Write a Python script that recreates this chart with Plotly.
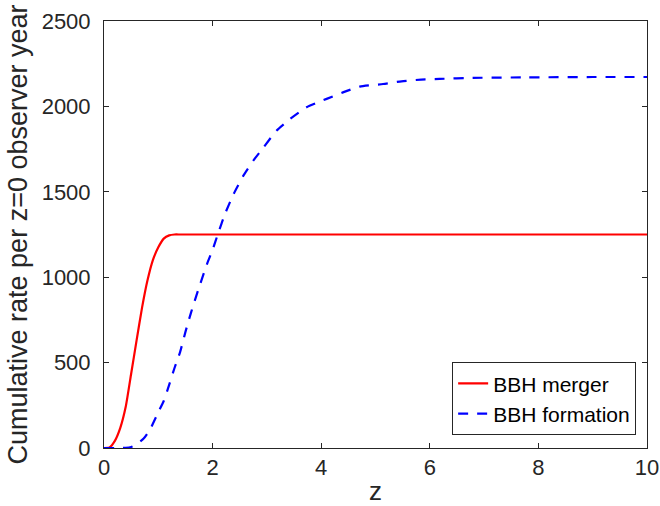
import plotly.graph_objects as go

# Data
z_merger = [0, 0.1, 0.2, 0.3, 0.4, 0.5, 0.6, 0.7, 0.8, 0.9, 1.0, 1.1, 1.2, 1.3, 1.4, 1.6, 2.0, 4.0, 6.0, 8.0, 10.0]
rate_merger = [0, 3, 42, 118, 241, 435, 630, 820, 980, 1100, 1175, 1226, 1245, 1250, 1250, 1250, 1250, 1250, 1250, 1250, 1250]

z_formation = [0, 0.3, 0.4, 0.5, 0.6, 0.73, 0.85, 1.0, 1.1, 1.2, 1.3, 1.4, 1.5, 1.6, 1.75, 1.9, 2.0, 2.1, 2.23, 2.39, 2.57, 2.75, 2.94, 3.18, 3.43, 3.73, 4.1, 4.4, 4.71, 5.14, 5.48, 5.84, 6.18, 6.79, 7.8, 9.0, 10.0]
rate_formation = [0, 0, 1, 6, 22, 55, 110, 210, 275, 370, 470, 560, 680, 790, 940, 1080, 1160, 1255, 1372, 1489, 1596, 1683, 1761, 1859, 1927, 1995, 2044, 2082, 2116, 2131, 2147, 2157, 2161, 2167, 2170, 2172, 2172]

x_ticks = [0, 2, 4, 6, 8, 10]
y_ticks = [0, 500, 1000, 1500, 2000, 2500]

FONT = "Liberation Sans, Arial, Helvetica, sans-serif"
AX = "#262626"

fig = go.Figure()
fig.add_trace(go.Scatter(x=z_merger, y=rate_merger, mode="lines", name="BBH merger",
                         line=dict(color="#ff0000", width=2.2, shape="spline", smoothing=0.5)))
fig.add_trace(go.Scatter(x=z_formation, y=rate_formation, mode="lines", name="BBH formation",
                         line=dict(color="#0000ff", width=2.2, dash="10px,9px", shape="spline", smoothing=0.5)))

axis_common = dict(showgrid=False, zeroline=False, showline=True, linecolor=AX, linewidth=1,
                   mirror="ticks", ticks="inside", ticklen=5, tickwidth=1, tickcolor=AX,
                   tickfont=dict(family=FONT, size=22, color=AX))

fig.update_xaxes(range=[0, 10], tickvals=x_ticks, **axis_common,
                 title=dict(text="z", font=dict(family=FONT, size=26, color=AX), standoff=4))
fig.update_yaxes(range=[0, 2500], tickvals=y_ticks, ticklabelstandoff=8, **axis_common,
                 title=dict(text="Cumulative rate per z=0 observer year",
                            font=dict(family=FONT, size=27, color=AX), standoff=6))

fig.update_layout(
    width=660, height=506,
    margin=dict(l=103.5, r=13, t=20.5, b=58, autoexpand=False),
    paper_bgcolor="white", plot_bgcolor="white",
    showlegend=True,
    legend=dict(x=0.98, y=0.03, xanchor="right", yanchor="bottom",
                bgcolor="white", bordercolor=AX, borderwidth=1,
                font=dict(family=FONT, size=21, color="#000000"),
                tracegroupgap=0, itemwidth=30),
)

fig.write_html("out.html", config={"displayModeBar": False},
               post_script="document.body.style.margin='0';")
